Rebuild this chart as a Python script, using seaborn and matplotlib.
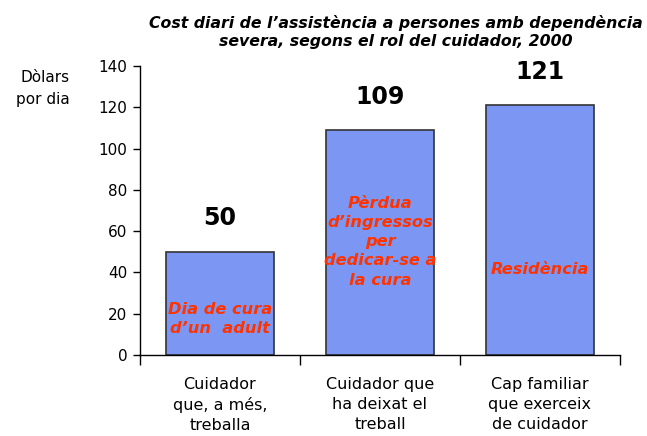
import matplotlib
matplotlib.use("Agg")
import matplotlib.pyplot as plt
import seaborn as sns
import pandas as pd

categories = ["Cuidador\nque, a més,\ntreballa",
              "Cuidador que\nha deixat el\ntreball",
              "Cap familiar\nque exerceix\nde cuidador"]
values = [50, 109, 121]
inner_labels = ["Dia de cura\nd\u2019un  adult",
                "Pèrdua\nd\u2019ingressos\nper\ndedicar-se a\nla cura",
                "Residència"]
inner_label_y = [17.6, 54.8, 41.2]
title = "Cost diari de l\u2019assistència a persones amb dependència\nsevera, segons el rol del cuidador, 2000"
ylabel = "Dòlars\npor dia"

sns.set_style("white")
plt.rcParams['font.family'] = ['DejaVu Sans']
plt.rcParams['text.color'] = 'black'
plt.rcParams['xtick.color'] = 'black'
plt.rcParams['ytick.color'] = 'black'
plt.rcParams['xtick.labelcolor'] = 'black'
plt.rcParams['ytick.labelcolor'] = 'black'

df = pd.DataFrame({"cat": categories, "val": values})

fig = plt.figure(figsize=(6.47, 4.36), dpi=100)
ax = fig.add_axes([140/647, 1-355/436, 480/647, (355-66)/436])

sns.barplot(data=df, x="cat", y="val", color="#7b97f3", saturation=1,
            width=0.675, edgecolor="#333333", linewidth=1.2, ax=ax)

ax.set_xlim(-0.5, 2.5)
ax.set_ylim(0, 140)
ax.set_yticks(range(0, 141, 20))
ax.set_xlabel("")
ax.set_ylabel("")

for s in ["top", "right"]:
    ax.spines[s].set_visible(False)
for s in ["left", "bottom"]:
    ax.spines[s].set_color("black")
    ax.spines[s].set_linewidth(1.0)

ax.tick_params(axis="y", which="major", direction="out", length=5, width=1,
               color="black", labelsize=11, pad=4, left=True)
ax.tick_params(axis="x", which="major", length=0, labelsize=11.5, pad=16)
ax.set_xticks([-0.5, 0.5, 1.5, 2.5], minor=True)
ax.tick_params(axis="x", which="minor", direction="out", length=7, width=1,
               color="black", bottom=True)
for lbl in ax.get_xticklabels():
    lbl.set_linespacing(1.4)

for i, v in enumerate(values):
    ax.annotate(str(v), xy=(i, v), xytext=(0, 24), textcoords="offset points",
                ha="center", va="center", fontsize=17, fontweight="bold",
                color="black")
    ax.text(i, inner_label_y[i], inner_labels[i], ha="center", va="center",
            fontsize=11.7, fontstyle="italic", fontweight="bold",
            color="#ff3300", linespacing=1.34)

fig.text(396/647, 1-32/436, title, ha="center", va="center", fontsize=11.3,
         fontstyle="italic", fontweight="bold", linespacing=1.25)
fig.text(70/647, 1-70/436, ylabel, ha="right", va="top", fontsize=11,
         linespacing=1.6)

fig.savefig("out.png", dpi=100)
